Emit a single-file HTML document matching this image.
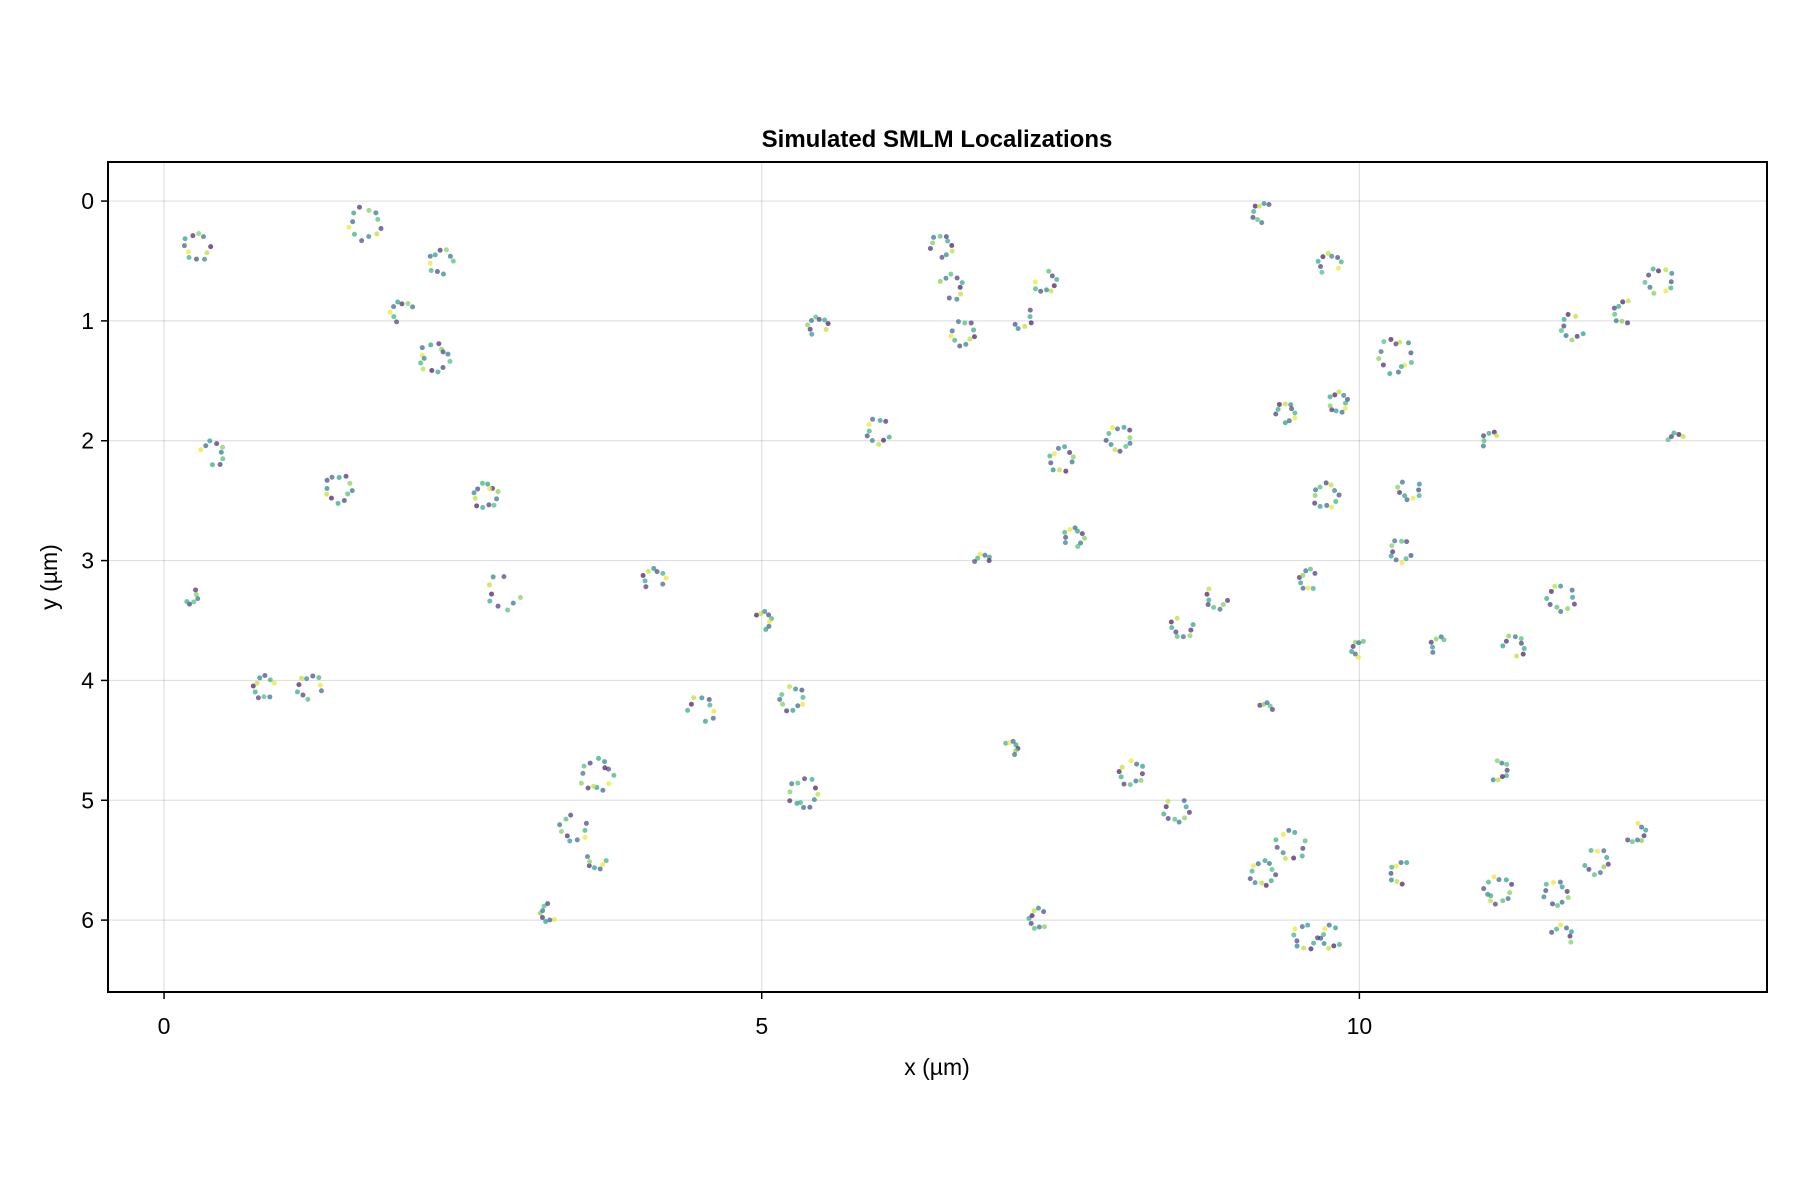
<!DOCTYPE html>
<html><head><meta charset="utf-8">
<style>
html,body{margin:0;padding:0;background:#fff;}
svg{display:block;font-family:"Liberation Sans",sans-serif;}
</style></head>
<body>
<svg id="chart" width="1800" height="1200" viewBox="0 0 1800 1200" xmlns="http://www.w3.org/2000/svg">
<rect width="1800" height="1200" fill="#fff"/>
<text x="937" y="147" text-anchor="middle" font-size="24" font-weight="bold" fill="#000">Simulated SMLM Localizations</text>
<g id="grid"></g>
<g id="points"></g>
<rect x="108" y="162" width="1659" height="830" fill="none" stroke="#000" stroke-width="2"/>
<g id="ticks"></g>
<text x="937" y="1075" text-anchor="middle" font-size="23" fill="#000">x (µm)</text>
<text x="57" y="577" text-anchor="middle" font-size="23" fill="#000" transform="rotate(-90 57 577)">y (µm)</text>
</svg>
<script>
// cluster data: x center, y center (µm), ring radius, rotation (deg), point count
const clusterX = [0.28,1.68,2.32,1.99,2.26,0.40,1.46,2.69,0.21,2.85,0.84,1.22,4.10,4.49,5.01,5.25,3.62,3.43,3.62,3.22,5.35,5.47,6.50,6.58,6.68,7.37,7.16,5.98,7.51,7.99,7.61,6.85,7.08,8.09,8.47,8.52,8.81,7.32,9.19,9.75,9.38,9.82,10.30,9.72,10.42,10.35,9.58,10.01,10.68,11.29,9.21,11.16,9.19,9.43,9.55,9.77,10.35,11.16,11.64,11.69,11.98,12.31,11.69,11.79,12.22,12.51,11.11,12.65];
const clusterY = [0.38,0.19,0.51,0.93,1.31,2.11,2.40,2.46,3.29,3.26,4.06,4.06,3.16,4.25,3.50,4.15,4.79,5.23,5.49,5.94,4.94,1.05,0.38,0.72,1.10,0.67,0.96,1.92,2.16,1.98,2.81,3.02,4.57,4.77,5.08,3.55,3.31,5.99,0.10,0.53,1.77,1.68,1.29,2.46,2.40,2.92,3.16,3.74,3.72,3.72,4.25,4.75,5.61,5.37,6.14,6.14,5.61,5.75,5.78,6.14,5.51,5.27,3.31,1.05,0.93,0.67,2.01,2.01];
const clusterR = [0.11,0.13,0.10,0.09,0.12,0.10,0.11,0.10,0.07,0.14,0.09,0.10,0.09,0.11,0.07,0.10,0.13,0.11,0.08,0.07,0.12,0.08,0.09,0.10,0.10,0.09,0.10,0.10,0.10,0.10,0.08,0.07,0.06,0.10,0.10,0.09,0.09,0.08,0.08,0.09,0.08,0.08,0.14,0.10,0.09,0.09,0.08,0.07,0.08,0.09,0.06,0.08,0.10,0.12,0.10,0.09,0.09,0.11,0.10,0.09,0.10,0.08,0.11,0.10,0.09,0.11,0.08,0.07];
const clusterRot = [0,40,80,120,160,200,240,280,320,20,60,100,140,180,220,260,300,340,10,50,90,130,170,210,250,290,330,30,70,110,150,190,230,270,310,350,15,55,95,135,175,215,255,295,335,25,65,105,145,185,225,265,305,345,5,45,85,125,165,205,245,285,325,35,75,115,155,195];
const clusterN = [11,12,10,8,14,9,12,13,6,9,10,10,9,9,8,11,14,10,7,8,13,9,10,9,11,9,6,10,11,12,10,6,7,11,10,9,8,9,8,9,10,11,14,12,9,10,9,7,6,9,5,8,12,11,10,9,8,13,11,7,10,8,11,9,8,11,6,5];
// fixed within-cluster layout (angle deg, radial factor, colour value)
const ringAngle = [0,33,61,95,128,150,184,212,247,275,301,336,18,166];
const ringRad = [1.0,0.85,1.1,0.95,1.05,0.8,1.0,1.12,0.9,1.0,0.88,1.08,0.7,0.75];
const ringColor = [0.05,0.9,0.45,0.2,0.65,0.98,0.3,0.55,0.1,0.8,0.35,0.7,0.15,0.6];

const xTicks = [0,5,10];
const yTicks = [0,1,2,3,4,5,6];

const L=108,R=1767,T=162,B=992;
const xMin=-0.469,xMax=13.41,yMin=-0.326,yMax=6.60;
const sx = v => L + (v-xMin)/(xMax-xMin)*(R-L);
const sy = v => T + (v-yMin)/(yMax-yMin)*(B-T);
const NS='http://www.w3.org/2000/svg';

function viridis(t){
  const stops=[[68,1,84],[72,40,120],[62,74,137],[49,104,142],[38,130,142],[31,158,137],[53,183,121],[109,205,89],[180,222,44],[253,231,37]];
  const p=t*(stops.length-1),i=Math.min(Math.floor(p),stops.length-2),f=p-i;
  const c=stops[i].map((a,k)=>Math.round(a+(stops[i+1][k]-a)*f));
  return 'rgb('+c.join(',')+')';
}

const grid=document.getElementById('grid');
const ticks=document.getElementById('ticks');
xTicks.forEach(v=>{
  const g=document.createElementNS(NS,'line');
  
  
  g.setAttribute('x1',sx(v));g.setAttribute('x2',sx(v));g.setAttribute('y1',T);g.setAttribute('y2',B);
  g.setAttribute('stroke','#000');g.setAttribute('stroke-opacity','0.12');g.setAttribute('stroke-width','1.2');
  grid.appendChild(g);
  const t=document.createElementNS(NS,'line');
  
  
  t.setAttribute('x1',sx(v));t.setAttribute('x2',sx(v));t.setAttribute('y1',B);t.setAttribute('y2',B+7);
  t.setAttribute('stroke','#000');t.setAttribute('stroke-width','1.5');
  ticks.appendChild(t);
  const l=document.createElementNS(NS,'text');
  
  
  l.setAttribute('x',sx(v));l.setAttribute('y',B+42);l.setAttribute('text-anchor','middle');l.setAttribute('font-size','23');
  l.textContent=v;ticks.appendChild(l);
});
yTicks.forEach(v=>{
  const g=document.createElementNS(NS,'line');
  
  
  g.setAttribute('x1',L);g.setAttribute('x2',R);g.setAttribute('y1',sy(v));g.setAttribute('y2',sy(v));
  g.setAttribute('stroke','#000');g.setAttribute('stroke-opacity','0.12');g.setAttribute('stroke-width','1.2');
  grid.appendChild(g);
  const t=document.createElementNS(NS,'line');
  
  
  t.setAttribute('x1',L-7);t.setAttribute('x2',L);t.setAttribute('y1',sy(v));t.setAttribute('y2',sy(v));
  t.setAttribute('stroke','#000');t.setAttribute('stroke-width','1.5');
  ticks.appendChild(t);
  const l=document.createElementNS(NS,'text');
  
  
  l.setAttribute('x',L-14);l.setAttribute('y',sy(v)+8);l.setAttribute('text-anchor','end');l.setAttribute('font-size','23');
  l.textContent=v;ticks.appendChild(l);
});

const pts=document.getElementById('points');
clusterX.forEach((cx,i)=>{
  for(let k=0;k<clusterN[i];k++){
    const a=(ringAngle[k]+clusterRot[i])*Math.PI/180;
    const r=clusterR[i]*ringRad[k];
    const c=document.createElementNS(NS,'circle');
    
    
    c.setAttribute('cx',sx(cx+r*Math.cos(a)));
    c.setAttribute('cy',sy(clusterY[i]+r*Math.sin(a)));
    c.setAttribute('r','2.5');
    c.setAttribute('fill',viridis(ringColor[(k+i)%ringColor.length]));
    c.setAttribute('fill-opacity','0.7');
    pts.appendChild(c);
  }
});
</script>
</body></html>
